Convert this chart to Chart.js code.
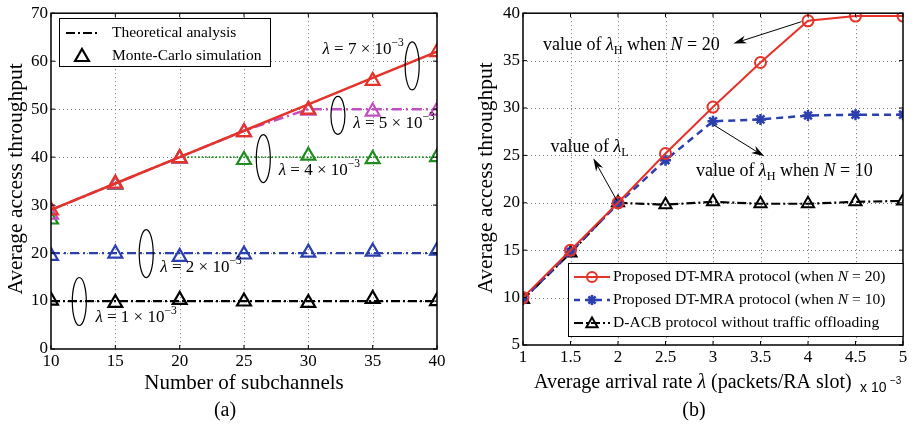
<!DOCTYPE html>
<html>
<head>
<meta charset="utf-8">
<script src="https://cdn.jsdelivr.net/npm/chart.js@4.4.0/dist/chart.umd.min.js"></script>
<style>
  body { margin: 0; background: #fff; }
  #wrap { position: relative; width: 912px; height: 427px; }
  canvas { position: absolute; top: 0; }
</style>
</head>
<body>
<div id="wrap">
  <canvas id="left" width="456" height="427" style="left:0"></canvas>
  <canvas id="right" width="456" height="427" style="left:456px"></canvas>
</div>
<script>
// ---- panel (a) data ----
const SUBCHANNELS = [10, 15, 20, 25, 30, 35, 40];
const THEORY_L7 = [29, 34.5, 40, 45.5, 51, 56.5, 62];
const THEORY_L5 = [29, 34.5, 40, 45.5, 50, 50, 50];
const THEORY_L4 = [29, 34.5, 40, 40, 40, 40, 40];
const THEORY_L2 = [20, 20, 20, 20, 20, 20, 20];
const THEORY_L1 = [10, 10, 10, 10, 10, 10, 10];
const SIM_L7 = [28.9, 34.5, 39.8, 45.2, 49.9, 55.9, 61.9];
const SIM_L5 = [28.0, 34.3, 39.7, 45.2, 49.7, 49.5, 49.7];
const SIM_L4 = [27.0, 34.2, 39.7, 39.4, 40.3, 39.6, 40.0];
const SIM_L2 = [19.4, 19.9, 19.2, 19.7, 20.1, 20.3, 20.5];
const SIM_L1 = [10.1, 9.6, 10.25, 9.9, 9.6, 10.45, 10.0];
const TICKS_A_Y = [0, 70, 10];

// ---- panel (b) data ----
const ARRIVAL_RATE = [1, 1.5, 2, 2.5, 3, 3.5, 4, 4.5, 5];
const DTMRA_N20 = [10, 15, 20, 25.2, 30.1, 34.8, 39.2, 39.7, 39.7];
const DTMRA_N10 = [9.8, 14.8, 19.9, 24.5, 28.6, 28.8, 29.2, 29.3, 29.3];
const DACB = [9.8, 14.7, 20, 19.8, 20.1, 19.9, 19.9, 20.1, 20.2];
const TICKS_B_Y = [5, 40, 5];

const RED = '#e5332a', MAGENTA = '#c24fc2', GREEN = '#1e8c1e', BLUE = '#2b3fae', BLACK = '#000';
const SERIF = '"Liberation Serif", "DejaVu Serif", serif';
const DASHDOT = [9, 3, 2, 3];
const HOLLOW = 'rgba(0,0,0,0)';

function pts(xs, ys) { return xs.map((x, i) => ({ x: x, y: ys[i] })); }

// rich text: segments [text, kind] kind in r | i | sub | sup
function rich(ctx, x, y, segs, size) {
  ctx.save();
  ctx.textBaseline = 'middle';
  ctx.textAlign = 'left';
  ctx.fillStyle = '#000';
  let cx = x;
  segs.forEach(([t, k]) => {
    let fs = size, dy = 0, st = '';
    if (k === 'i') st = 'italic ';
    if (k === 'sub') { fs = size * 0.68; dy = size * 0.32; }
    if (k === 'sup') { fs = size * 0.68; dy = -size * 0.38; }
    ctx.font = st + fs + 'px ' + SERIF;
    ctx.fillText(t, cx, y + dy);
    cx += ctx.measureText(t).width;
  });
  ctx.restore();
}

function arrow(ctx, x1, y1, x2, y2) {
  const a = Math.atan2(y2 - y1, x2 - x1), L = 13, W = 4;
  ctx.save();
  ctx.strokeStyle = '#000'; ctx.fillStyle = '#000'; ctx.lineWidth = 1;
  ctx.beginPath(); ctx.moveTo(x1, y1);
  ctx.lineTo(x2 - Math.cos(a) * L * 0.7, y2 - Math.sin(a) * L * 0.7); ctx.stroke();
  ctx.translate(x2, y2); ctx.rotate(a);
  ctx.beginPath(); ctx.moveTo(0, 0); ctx.lineTo(-L, -W); ctx.lineTo(-L * 0.7, 0); ctx.lineTo(-L, W);
  ctx.closePath(); ctx.fill();
  ctx.restore();
}

function ellipse(ctx, cx, cy, rx, ry) {
  ctx.save();
  ctx.strokeStyle = '#000'; ctx.lineWidth = 1.2;
  ctx.beginPath(); ctx.ellipse(cx, cy, rx, ry, 0, 0, Math.PI * 2); ctx.stroke();
  ctx.restore();
}

function sample(ctx, x1, x2, y, color, dash, width) {
  ctx.save();
  ctx.strokeStyle = color; ctx.lineWidth = width; ctx.setLineDash(dash);
  ctx.beginPath(); ctx.moveTo(x1, y); ctx.lineTo(x2, y); ctx.stroke();
  ctx.restore();
}

function marker(ctx, style, r, bw, color, x, y) {
  ctx.save();
  ctx.strokeStyle = color; ctx.fillStyle = HOLLOW; ctx.lineWidth = bw; ctx.setLineDash([]);
  Chart.helpers.drawPoint(ctx, { pointStyle: style, radius: r, borderWidth: bw, rotation: 0 }, x, y);
  ctx.restore();
}

// grid, box, inward ticks (MATLAB look)
const frame = {
  id: 'frame',
  beforeDatasetsDraw(chart) {
    const { ctx, chartArea: a, scales: { x, y } } = chart;
    ctx.save();
    ctx.strokeStyle = '#777'; ctx.lineWidth = 1; ctx.setLineDash([1, 3]);
    x.ticks.forEach(t => {
      const px = Math.round(x.getPixelForValue(t.value)) + 0.5;
      if (px - a.left < 2 || a.right - px < 2) return;
      ctx.beginPath(); ctx.moveTo(px, a.top); ctx.lineTo(px, a.bottom); ctx.stroke();
    });
    y.ticks.forEach(t => {
      const py = Math.round(y.getPixelForValue(t.value)) + 0.5;
      if (py - a.top < 2 || a.bottom - py < 2) return;
      ctx.beginPath(); ctx.moveTo(a.left, py); ctx.lineTo(a.right, py); ctx.stroke();
    });
    ctx.restore();
  },
  afterDatasetsDraw(chart) {
    const { ctx, chartArea: a, scales: { x, y } } = chart;
    ctx.save();
    ctx.strokeStyle = '#000'; ctx.lineWidth = 1.5;
    ctx.strokeRect(a.left, a.top, a.right - a.left, a.bottom - a.top);
    ctx.lineWidth = 1;
    x.ticks.forEach(t => {
      const px = x.getPixelForValue(t.value);
      ctx.beginPath(); ctx.moveTo(px, a.bottom); ctx.lineTo(px, a.bottom - 4);
      ctx.moveTo(px, a.top); ctx.lineTo(px, a.top + 4); ctx.stroke();
    });
    y.ticks.forEach(t => {
      const py = y.getPixelForValue(t.value);
      ctx.beginPath(); ctx.moveTo(a.left, py); ctx.lineTo(a.left + 4, py);
      ctx.moveTo(a.right, py); ctx.lineTo(a.right - 4, py); ctx.stroke();
    });
    ctx.restore();
  }
};

function axes(xmin, xmax, xstep, ytk, yw, xh) {
  const tickFont = { family: SERIF, size: 17 };
  const plain = v => String(Math.round(v * 100) / 100);
  return {
    x: {
      type: 'linear', min: xmin, max: xmax,
      ticks: { stepSize: xstep, color: '#000', font: tickFont, padding: 2, maxRotation: 0, callback: plain },
      grid: { display: false, drawTicks: false }, border: { display: false },
      afterFit(s) { s.height = xh; }
    },
    y: {
      type: 'linear', min: ytk[0], max: ytk[1],
      ticks: { stepSize: ytk[2], color: '#000', font: tickFont, padding: 3, callback: plain },
      grid: { display: false, drawTicks: false }, border: { display: false },
      afterFit(s) { s.width = yw; }
    }
  };
}

// ---------- panel (a) ----------
const annotA = {
  id: 'annotA',
  afterDraw(chart) {
    const { ctx, scales: { x, y } } = chart;
    const X = v => x.getPixelForValue(v), Y = v => y.getPixelForValue(v);
    const lam = n => [['λ', 'i'], [' = ' + n + ' × 10', 'r'], ['−3', 'sup']];
    rich(ctx, X(31.1), Y(62.5), lam(7), 17); ellipse(ctx, X(38.07), Y(59), 7, 24);
    rich(ctx, X(33.5), Y(47.1), lam(5), 17); ellipse(ctx, X(32.3), Y(48.7), 7, 19);
    rich(ctx, X(27.7), Y(37.2), lam(4), 17); ellipse(ctx, X(26.5), Y(39.7), 7, 24);
    rich(ctx, X(18.5), Y(16.9), lam(2), 17); ellipse(ctx, X(17.4), Y(19.9), 7, 24);
    rich(ctx, X(13.45), Y(6.6), lam(1), 17); ellipse(ctx, X(12.2), Y(9.9), 7, 24);

    // legend
    ctx.save();
    ctx.fillStyle = '#fff'; ctx.fillRect(59, 18, 212, 49);
    ctx.strokeStyle = '#000'; ctx.lineWidth = 1; ctx.strokeRect(59.5, 18.5, 211, 48);
    ctx.restore();
    sample(ctx, 66, 100, 33, BLACK, DASHDOT, 2);
    marker(ctx, 'triangle', 8, 2.2, BLACK, 82, 57);
    rich(ctx, 112, 33, [['Theoretical analysis', 'r']], 15.5);
    rich(ctx, 112, 56, [['Monte-Carlo simulation', 'r']], 15.5);

    // titles
    ctx.save();
    ctx.fillStyle = '#000'; ctx.textAlign = 'center'; ctx.textBaseline = 'middle';
    ctx.font = '21px ' + SERIF;
    ctx.fillText('Number of subchannels', 244, 383);
    ctx.font = '20px ' + SERIF;
    ctx.fillText('(a)', 225, 411);
    ctx.font = '21.5px ' + SERIF;
    ctx.translate(16, 179); ctx.rotate(-Math.PI / 2);
    ctx.fillText('Average access throughput', 0, 0);
    ctx.restore();
  }
};

function theory(data, color, dash, width) {
  return { data: pts(SUBCHANNELS, data), borderColor: color, borderDash: dash, borderWidth: width, pointRadius: 0, showLine: true, fill: false };
}
function sim(data, color) {
  return { data: pts(SUBCHANNELS, data), borderColor: color, backgroundColor: HOLLOW, showLine: false,
    pointStyle: 'triangle', pointRadius: 8, pointBorderWidth: 2.2 };
}

new Chart(document.getElementById('left'), {
  type: 'scatter',
  data: {
    datasets: [
      theory(THEORY_L7, RED, [], 2.5), sim(SIM_L7, RED),
      theory(THEORY_L5, MAGENTA, [10, 4, 2, 4], 2.5), sim(SIM_L5, MAGENTA),
      theory(THEORY_L4, GREEN, [1.5, 2], 1.8), sim(SIM_L4, GREEN),
      theory(THEORY_L2, BLUE, [9, 4, 2, 4], 2.2), sim(SIM_L2, BLUE),
      theory(THEORY_L1, BLACK, DASHDOT, 2.2), sim(SIM_L1, BLACK)
    ]
  },
  options: {
    responsive: false, animation: false, devicePixelRatio: 1,
    layout: { padding: { left: 0, right: 19, top: 9, bottom: 0 } },
    plugins: { legend: { display: false }, tooltip: { enabled: false } },
    scales: axes(10, 40, 5, TICKS_A_Y, 51, 78)
  },
  plugins: [frame, annotA]
});

// ---------- panel (b) ----------
const annotB = {
  id: 'annotB',
  afterDraw(chart) {
    const { ctx, scales: { x, y } } = chart;
    const X = v => x.getPixelForValue(v), Y = v => y.getPixelForValue(v);
    rich(ctx, X(1.21), Y(36.6), [['value of ', 'r'], ['λ', 'i'], ['H', 'sub'], [' when ', 'r'], ['N', 'i'], [' = 20', 'r']], 18);
    arrow(ctx, X(3.93), Y(39.1), X(3.215), Y(36.8));
    rich(ctx, X(1.29), Y(25.9), [['value of ', 'r'], ['λ', 'i'], ['L', 'sub']], 18);
    arrow(ctx, X(1.99), Y(20.2), X(1.74), Y(24.7));
    rich(ctx, X(2.82), Y(23.3), [['value of ', 'r'], ['λ', 'i'], ['H', 'sub'], [' when ', 'r'], ['N', 'i'], [' = 10', 'r']], 18);
    arrow(ctx, X(3.01), Y(28.2), X(3.54), Y(24.9));

    // legend
    const a = chart.chartArea;
    ctx.save();
    ctx.fillStyle = '#fff'; ctx.fillRect(112, 263, a.right - 112, 74);
    ctx.strokeStyle = '#000'; ctx.lineWidth = 1; ctx.strokeRect(112.5, 263.5, a.right - 112.5, 73);
    ctx.restore();
    sample(ctx, 118, 154, 277, RED, [], 2);
    marker(ctx, 'circle', 5, 2, RED, 136, 277);
    sample(ctx, 118, 154, 300, BLUE, [6, 5], 2.5);
    marker(ctx, 'star', 5, 2.5, BLUE, 136, 300);
    sample(ctx, 118, 154, 323, BLACK, DASHDOT, 2);
    marker(ctx, 'triangle', 6.5, 2, BLACK, 136, 324);
    rich(ctx, 157, 277, [['Proposed DT-MRA protocol (when ', 'r'], ['N', 'i'], [' = 20)', 'r']], 15.6);
    rich(ctx, 157, 300, [['Proposed DT-MRA protocol (when ', 'r'], ['N', 'i'], [' = 10)', 'r']], 15.6);
    rich(ctx, 157, 323, [['D-ACB protocol without traffic offloading', 'r']], 15.6);

    // titles
    rich(ctx, 78, 383, [['Average arrival rate ', 'r'], ['λ', 'i'], [' (packets/RA slot)', 'r']], 20);
    ctx.save();
    ctx.fillStyle = '#000'; ctx.textBaseline = 'middle'; ctx.textAlign = 'left';
    ctx.font = '14px "Liberation Sans", sans-serif';
    ctx.fillText('x 10', 404, 388);
    ctx.font = '10px "Liberation Sans", sans-serif';
    ctx.fillText('−3', 434, 381);
    ctx.textAlign = 'center';
    ctx.font = '20px ' + SERIF;
    ctx.fillText('(b)', 238, 411);
    ctx.font = '21.5px ' + SERIF;
    ctx.translate(30, 178); ctx.rotate(-Math.PI / 2);
    ctx.fillText('Average access throughput', 0, 0);
    ctx.restore();
  }
};

new Chart(document.getElementById('right'), {
  type: 'scatter',
  data: {
    datasets: [
      { data: pts(ARRIVAL_RATE, DTMRA_N20), showLine: true, borderColor: RED, borderWidth: 2, backgroundColor: HOLLOW,
        pointStyle: 'circle', pointRadius: 5.5, pointBorderWidth: 2 },
      { data: pts(ARRIVAL_RATE, DTMRA_N10), showLine: true, borderColor: BLUE, borderWidth: 2.5, borderDash: [7, 5], backgroundColor: BLUE,
        pointStyle: 'star', pointRadius: 5.5, pointBorderWidth: 2.5 },
      { data: pts(ARRIVAL_RATE, DACB), showLine: true, borderColor: BLACK, borderWidth: 2.2, borderDash: DASHDOT, backgroundColor: HOLLOW,
        pointStyle: 'triangle', pointRadius: 7, pointBorderWidth: 2 }
    ]
  },
  options: {
    responsive: false, animation: false, devicePixelRatio: 1,
    layout: { padding: { left: 0, right: 9, top: 11, bottom: 0 } },
    plugins: { legend: { display: false }, tooltip: { enabled: false } },
    scales: axes(1, 5, 0.5, TICKS_B_Y, 67, 82)
  },
  plugins: [frame, annotB]
});
</script>
</body>
</html>
